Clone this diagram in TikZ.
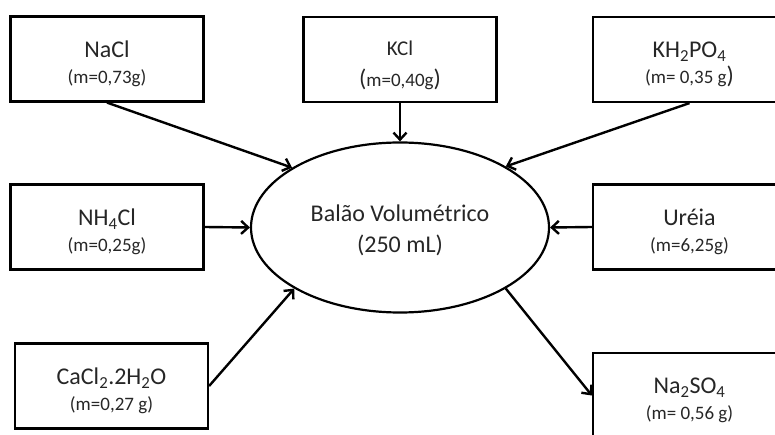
\documentclass[tikz,border=0pt]{standalone}
\usepackage{fontspec}
\setmainfont{Carlito}
\usetikzlibrary{arrows.meta,shapes.geometric}
\def\grande{\fontsize{24}{26}\selectfont}
\def\medio{\fontsize{21}{26}\selectfont}
\def\pequeno{\fontsize{19}{26}\selectfont}
\def\alto{\rule{0pt}{26pt}}
\tikzset{
	caixa/.style={draw, line width=2.2pt, minimum width=193pt, minimum height=85pt, inner sep=0pt, align=center, font=\pequeno, text=black!85},
	balao/.style={draw, ellipse, line width=2.2pt, minimum width=298pt, minimum height=170pt, inner sep=0pt, align=center, font=\fontsize{24}{31}\selectfont, text=black!85},
	seta/.style={line width=2.4pt, -{Straight Barb[length=7pt,width=13pt]}}
}

\begin{document}
\begin{tikzpicture}[x=10pt, y=-10pt]
			%%%%% START %%%%%
			
			\useasboundingbox (0, 0) rectangle (77.5, 43.5);
			\clip (0, 0) rectangle (77.5, 43.5);
			
			\node[balao] (balao) at (40, 22.75) {\rule{0pt}{23pt}Balão Volumétrico\\ (250 mL)};
			
			\node[caixa] (nacl) at (10.7, 5.9) {\grande\alto NaCl\\ \pequeno (m=0,73g)};
			\node[caixa] (kcl) at (40, 5.95) {\medio\alto KCl\\[5pt] \grande(\pequeno m=0,40g\grande)};
			\node[caixa] (kh2po4) at (68.95, 5.95) {\grande\alto KH\textsubscript{2}PO\textsubscript{4}\\ \pequeno (m= 0,35 g\grande)};
			
			\node[caixa] (nh4cl) at (10.7, 22.7) {\grande\alto NH\textsubscript{4}Cl\\ \pequeno (m=0,25g)};
			\node[caixa] (ureia) at (68.95, 22.7) {\grande\alto Uréia\\ \pequeno (m=6,25g)};
			
			\node[caixa] (cacl2) at (11.15, 38.6) {\grande\alto CaCl\textsubscript{2}.2H\textsubscript{2}O\\ \pequeno (m=0,27 g)};
			\node[caixa] (na2so4) at (68.95, 39.55) {\grande\alto Na\textsubscript{2}SO\textsubscript{4}\\ \pequeno (m= 0,56 g)};
			
			\draw[seta] (nacl.south) -- (balao.151);
			\draw[seta] (kcl.south) -- (balao.north);
			\draw[seta] (kh2po4.south) -- (balao.30);
			\draw[seta] (nh4cl.east) -- (balao.west);
			\draw[seta] (ureia.west) -- (balao.east);
			\draw[seta] (cacl2.east) -- (balao.210);
			\draw[seta] (balao.-30) -- (na2so4.west);
			
			%%%%% END %%%%%
\end{tikzpicture}
\end{document}
